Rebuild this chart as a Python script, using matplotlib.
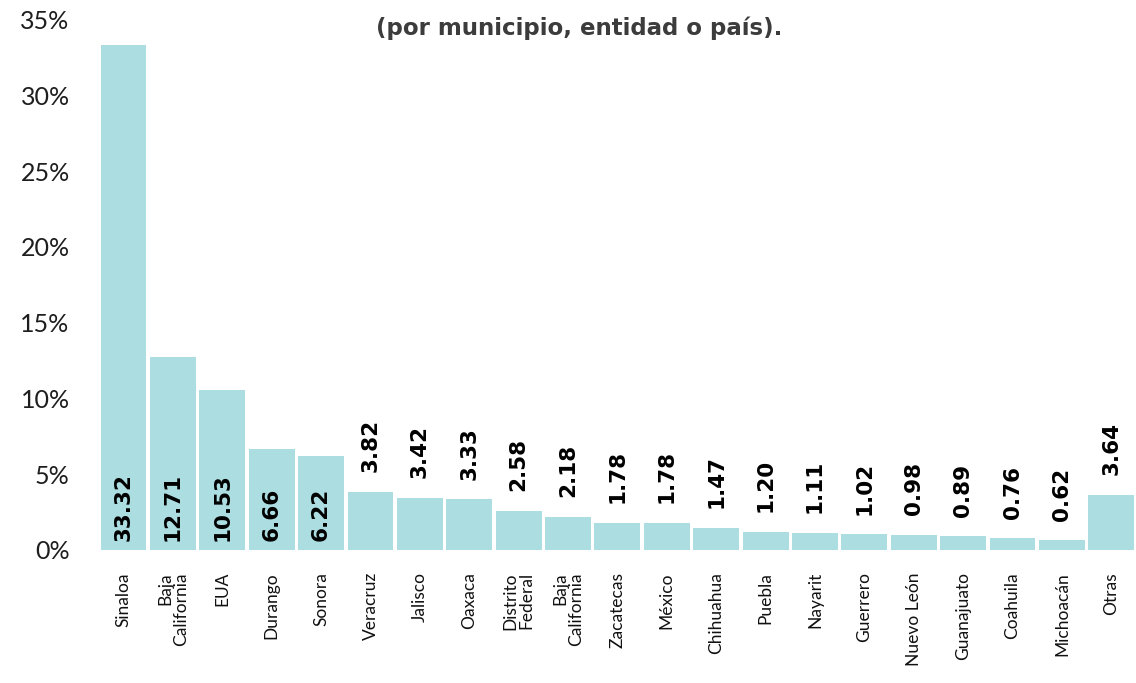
import matplotlib
matplotlib.use("Agg")
import matplotlib.pyplot as plt

lugares = ["Sinaloa", "Baja\nCalifornia", "EUA", "Durango", "Sonora", "Veracruz",
           "Jalisco", "Oaxaca", "Distrito\nFederal", "Baja\nCalifornia", "Zacatecas",
           "México", "Chihuahua", "Puebla", "Nayarit", "Guerrero", "Nuevo León",
           "Guanajuato", "Coahuila", "Michoacán", "Otras"]
porcentajes = [33.32, 12.71, 10.53, 6.66, 6.22, 3.82, 3.42, 3.33, 2.58, 2.18, 1.78,
               1.78, 1.47, 1.20, 1.11, 1.02, 0.98, 0.89, 0.76, 0.62, 3.64]
etiquetas = ["33.32", "12.71", "10.53", "6.66", "6.22", "3.82", "3.42", "3.33", "2.58",
             "2.18", "1.78", "1.78", "1.47", "1.20", "1.11", "1.02", "0.98", "0.89",
             "0.76", "0.62", "3.64"]
n_dentro = 5  # the first bars carry their label inside
yticks = [0, 5, 10, 15, 20, 25, 30, 35]

plt.rcParams["font.family"] = ["Lato", "DejaVu Sans"]

fig = plt.figure(figsize=(11.36, 6.83), dpi=100)
ax = fig.add_axes([0.087, 0.195, 0.913, 0.776])

x = range(len(lugares))
ax.bar(x, porcentajes, width=0.93, color="#abdde1")

for i, (v, t) in enumerate(zip(porcentajes, etiquetas)):
    y = 0.6 if i < n_dentro else v + 1.3
    ax.text(i, y, t, rotation=90, ha="center", va="bottom", family="DejaVu Sans",
            fontsize=15.5, fontweight="bold", color="black")

ax.set_xlim(-0.5, len(lugares) - 0.5)
ax.set_ylim(0, 35)
ax.set_yticks(yticks, [f"{t}%" for t in yticks])
ax.set_xticks(list(x), lugares, rotation=90, linespacing=1.0)
for lbl in ax.get_xticklabels():
    lbl.set_multialignment("right")
ax.tick_params(axis="y", length=0, labelsize=18, pad=21, colors="#1e1e1e")
ax.tick_params(axis="x", length=0, labelsize=12.5, pad=16, colors="#111111")
for s in ax.spines.values():
    s.set_visible(False)

fig.text(0.51, 0.959, "(por municipio, entidad o país).", ha="center", va="center",
         family="DejaVu Sans", fontsize=16.5, fontweight="bold", color="#3c3c3c")

fig.savefig("out.png", dpi=100)
